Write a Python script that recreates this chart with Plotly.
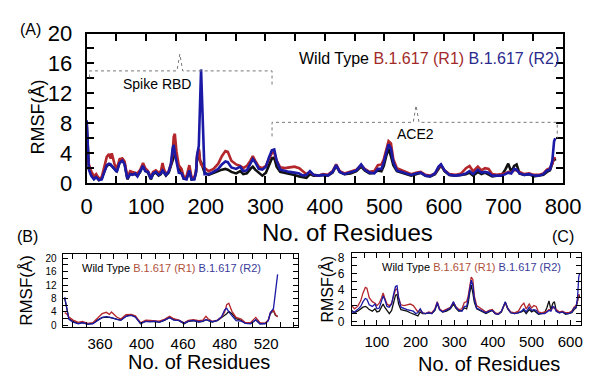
import plotly.graph_objects as go

W, H = 606, 385

# ---------------- data ----------------
# Panel B: Spike RBD (residue numbers as on panel B axis)
rbd_res = [326, 328, 330, 334, 339, 343, 348, 353, 357, 362, 366, 369, 371, 376, 380,
           385, 390, 394, 399, 404, 408, 413, 417, 422, 427, 431, 436, 441, 445, 450,
           455, 459, 462, 464, 468, 473, 477, 480, 482, 484, 487, 491, 496, 500, 505,
           510, 514, 519, 522, 524, 527, 529, 531]
rbd_wt = [8.0, 5.0, 2.0, 1.2, 0.6, 0.9, 0.4, 0.6, 1.5, 2.3, 2.5, 2.4, 2.3, 1.9, 1.6,
          2.8, 3.2, 2.6, 0.5, 1.3, 1.2, 1.2, 1.0, 1.5, 2.4, 1.7, 1.4, 0.5, 1.2, 1.4,
          1.0, 1.2, 1.7, 1.5, 1.0, 1.4, 2.2, 3.0, 3.5, 4.2, 3.5, 2.0, 1.5, 0.6, 0.6,
          1.6, 0.5, 0.6, 1.5, 3.5, 4.4, 3.0, 2.8]
rbd_r1 = [3.8, 3.4, 2.5, 1.6, 0.9, 1.2, 0.6, 0.8, 2.0, 3.5, 3.9, 3.3, 4.0, 2.5, 1.9,
          3.2, 3.3, 2.9, 0.8, 1.6, 1.5, 1.4, 1.3, 1.8, 2.7, 2.0, 1.6, 0.8, 1.5, 1.7,
          1.4, 1.6, 2.7, 2.0, 1.2, 1.6, 2.5, 4.0, 6.2, 6.6, 4.2, 2.4, 1.9, 0.8, 0.9,
          2.4, 0.8, 0.7, 1.6, 3.7, 4.6, 3.2, 2.5]
rbd_r2 = [8.4, 5.5, 1.8, 1.0, 0.5, 0.8, 0.4, 0.5, 1.4, 2.4, 2.6, 2.5, 2.3, 1.8, 1.5,
          2.7, 3.0, 2.5, 0.6, 1.2, 1.1, 1.3, 0.9, 1.6, 2.3, 1.6, 1.5, 0.6, 1.3, 1.5,
          1.1, 1.3, 1.7, 1.5, 1.1, 1.5, 2.6, 4.6, 5.1, 4.0, 2.8, 1.4, 1.3, 0.6, 0.5,
          1.7, 0.5, 0.5, 1.4, 3.8, 5.0, 9.5, 15.2]

# Panel C: ACE2 (residue numbers as on panel C axis)
ace_res = [35, 42, 50, 58, 64, 70, 74, 80, 88, 95, 100, 106, 112, 116, 120, 126, 132, 138,
           143, 148, 152, 156, 162, 170, 178, 186, 194, 200, 206, 212, 218, 226, 234, 242,
           250, 256, 262, 270, 280, 290, 298, 304, 312, 320, 326, 332, 336, 340, 344, 348,
           352, 358, 366, 374, 382, 390, 398, 406, 414, 422, 428, 432, 438, 446, 456, 466,
           474, 480, 486, 494, 500, 506, 512, 518, 526, 534, 540, 545, 550, 555, 559, 564,
           572, 580, 588, 596, 604, 610, 615, 619, 622, 624]
ace_wt = [1.4, 1.1, 1.3, 1.6, 1.8, 1.9, 1.8, 1.5, 1.3, 1.6, 1.2, 1.3, 1.9, 2.2, 1.8, 1.4, 1.0, 1.4,
          2.4, 3.3, 3.4, 2.2, 1.5, 1.4, 1.3, 1.1, 0.9, 0.8, 0.7, 1.2, 1.0, 1.0, 1.1, 1.0,
          1.4, 2.3, 1.5, 1.2, 1.3, 1.6, 2.2, 1.7, 1.3, 1.4, 1.7, 1.6, 2.3, 3.6, 4.6, 3.6,
          2.4, 1.6, 1.4, 1.3, 1.0, 1.2, 1.4, 1.0, 0.9, 1.2, 2.0, 2.4, 1.6, 1.1, 1.0, 1.1,
          1.2, 1.4, 1.0, 1.5, 1.2, 1.4, 1.2, 0.9, 1.0, 1.1, 1.8, 2.6, 1.5, 2.3, 2.5, 1.3,
          1.1, 1.2, 0.9, 1.0, 1.1, 1.5, 1.7, 2.6, 3.4, 3.0]
ace_r1 = [2.0, 1.6, 1.9, 2.6, 3.6, 4.3, 4.2, 3.0, 2.5, 2.3, 2.0, 2.3, 3.0, 3.6, 3.0, 2.2, 2.0, 2.3,
          3.2, 4.0, 4.1, 3.0, 2.1, 2.0, 2.1, 2.2, 2.0, 1.6, 1.2, 1.5, 1.1, 1.0, 1.2, 1.1,
          1.6, 2.5, 1.6, 1.3, 1.5, 1.8, 2.4, 1.9, 1.5, 1.6, 2.4, 2.5, 3.2, 4.6, 5.6, 5.3,
          3.2, 2.0, 1.7, 1.5, 1.2, 1.4, 1.5, 1.1, 1.0, 1.3, 2.1, 2.4, 1.7, 1.2, 1.1, 1.3,
          2.0, 2.3, 1.6, 2.2, 1.7, 2.0, 1.9, 1.2, 1.1, 1.2, 1.3, 1.5, 1.4, 1.8, 1.7, 1.5,
          1.2, 1.3, 1.1, 1.1, 1.3, 1.8, 2.0, 2.6, 3.4, 3.2]
ace_r2 = [1.2, 1.2, 1.5, 1.9, 2.5, 2.9, 2.8, 2.1, 1.9, 2.2, 1.6, 1.7, 2.6, 3.2, 2.8, 1.9, 1.8, 2.2,
          3.4, 4.4, 4.5, 3.0, 1.8, 1.6, 1.5, 1.4, 1.3, 1.0, 1.1, 1.6, 1.1, 1.0, 1.1, 1.0,
          1.5, 2.4, 1.5, 1.2, 1.4, 1.7, 2.5, 1.8, 1.4, 1.3, 1.9, 1.9, 2.8, 4.1, 5.2, 4.6,
          2.8, 1.7, 1.5, 1.3, 1.1, 1.3, 1.4, 1.0, 0.9, 1.3, 2.2, 2.5, 1.7, 1.1, 1.0, 1.1,
          1.3, 1.6, 1.2, 1.8, 1.4, 1.5, 1.4, 1.0, 1.0, 1.0, 1.2, 1.4, 1.3, 1.9, 1.8, 1.3,
          1.1, 1.2, 1.0, 1.0, 1.2, 1.7, 1.8, 3.0, 5.6, 6.0]

# Panel A: whole complex, sequential residue index (RBD first, then ACE2)
rbd_first, rbd_step = 326, 0.937
ace_shift = 163
complex_idx = [(r - rbd_first) * rbd_step for r in rbd_res] + [r + ace_shift for r in ace_res]
complex_wt = rbd_wt + ace_wt
complex_r1 = rbd_r1 + ace_r1
complex_r2 = rbd_r2 + ace_r2

# ---------------- style ----------------
FONT = "Liberation Sans"
C_WT, C_R1, C_R2 = "#111111", "#b3262b", "#1a1aa6"
T_R1, T_R2 = "#a32a2a", "#2a2a8c"


def px(x, y):
    return x / W, 1 - y / H


fig = go.Figure()

panels = [
    ("x", "y", complex_idx, (complex_wt, complex_r1, complex_r2), 2.6),
    ("x2", "y2", rbd_res, (rbd_wt, rbd_r1, rbd_r2), 1.3),
    ("x3", "y3", ace_res, (ace_wt, ace_r1, ace_r2), 1.3),
]
for xa, ya, xs, ys, lw in panels:
    for vals, col in zip(ys, (C_WT, C_R1, C_R2)):
        fig.add_trace(go.Scatter(x=xs, y=vals, mode="lines", xaxis=xa, yaxis=ya,
                                 line=dict(color=col, width=lw), showlegend=False,
                                 hoverinfo="skip"))


def axis(dom, rng, tickvals, anchor, ticktext=None, fs=14, lw=1, minor=None, tl=5,
         standoff=None):
    d = dict(domain=dom, range=rng, tickmode="array", tickvals=tickvals, anchor=anchor,
             ticks="inside", ticklen=tl, tickwidth=lw, tickcolor="black",
             showline=True, linecolor="black", linewidth=lw, mirror="ticks",
             showgrid=False, zeroline=False,
             tickfont=dict(family=FONT, size=fs, color="black"))
    if ticktext is not None:
        d["ticktext"] = ticktext
    if minor is not None:
        d["minor"] = dict(ticks="inside", ticklen=tl, tickwidth=lw, tickcolor="black",
                          showgrid=False, **minor)
    if standoff is not None:
        d["ticklabelstandoff"] = standoff
    return d


fig.update_layout(
    width=W, height=H, margin=dict(l=0, r=0, t=0, b=0),
    paper_bgcolor="white", plot_bgcolor="white",
    xaxis=axis([84 / W, 580 / W], [0, 800], list(range(0, 801, 100)), "y", fs=22, lw=2,
               minor=dict(dtick=50, tick0=0), tl=7, standoff=2),
    yaxis=axis([1 - 183 / H, 1 - 23 / H], [0, 20], list(range(0, 21, 4)), "x", fs=22, lw=2,
               minor=dict(dtick=2, tick0=0), tl=7, standoff=8),
    xaxis2=axis([59 / W, 304 / W], [324, 550.6], [360, 400, 440, 480, 520], "y2",
                ["360", "400", "460", "480", "520"], fs=15,
                minor=dict(dtick=40 / 3, tick0=360), standoff=3),
    yaxis2=axis([1 - 337 / H, 1 - 259 / H], [-0.5, 21.2], list(range(0, 21, 4)), "x2", fs=10,
                minor=dict(dtick=2, tick0=0), standoff=3),
    xaxis3=axis([360 / W, 599 / W], [34.8, 628.6], list(range(100, 601, 100)), "y3", fs=15,
                minor=dict(dtick=100 / 3, tick0=0), standoff=3),
    yaxis3=axis([1 - 335 / H, 1 - 258 / H], [-0.47, 8.59], [0, 2, 4, 6, 8], "x3", fs=12,
                minor=dict(dtick=1, tick0=0), standoff=4),
)

legend_txt = ("Wild Type <span style='color:%s'>B.1.617 (R1)</span> "
              "<span style='color:%s'>B.1.617 (R2)</span>")
ann = [
    # (text, x, y, size, anchor, angle)
    ("(A)", 26, 19, 16, "center", 0),
    ("(B)", 22, 240, 16, "center", 0),
    ("(C)", 580, 240, 16, "center", 0),
    ("No. of Residues", 356, 236, 24, "center", 0),
    ("RMSF(Å)", 33, 112, 18, "center", -90),
    ("Spike RBD", 157, 77, 14, "center", 0),
    ("ACE2", 426, 131, 14, "center", 0),
    (legend_txt % (T_R1, T_R2), 303, 50, 16, "left", 0),
    ("No. of Residues", 201, 374, 20, "center", 0),
    ("RMSF(Å)", 21, 298, 17, "center", -90),
    (legend_txt % ("#b0503a", "#3a3a9a"), 77, 274, 11, "left", 0),
    ("No. of Residues", 503, 376, 20, "center", 0),
    ("RMSF(Å)", 334, 296, 16, "center", -90),
    (legend_txt % ("#b0503a", "#3a3a9a"), 389, 273, 11, "left", 0),
]
for text, x, y, size, anc, ang in ann:
    fx, fy = px(x, y)
    fig.add_annotation(text=text, x=fx, y=fy, xref="paper", yref="paper",
                       xanchor=anc, yanchor="middle", showarrow=False, textangle=ang,
                       font=dict(family=FONT, size=size, color="black"))


def bracket(pts):
    s = ""
    for i, (x, y) in enumerate(pts):
        fx, fy = px(x, y)
        s += ("M" if i == 0 else " L") + " %.4f,%.4f" % (fx, fy)
    return s


for pts in ([(87, 70), (87, 63), (178, 63), (181, 45), (184, 63), (277, 63), (277, 78)],
            [(277, 133), (277, 118), (424, 118), (427, 100), (430, 118), (574, 118), (574, 135)]):
    fig.add_shape(type="path", path=bracket(pts), xref="paper", yref="paper",
                  line=dict(color="#777777", width=1, dash="dot"))

fig.write_html("out.html")
